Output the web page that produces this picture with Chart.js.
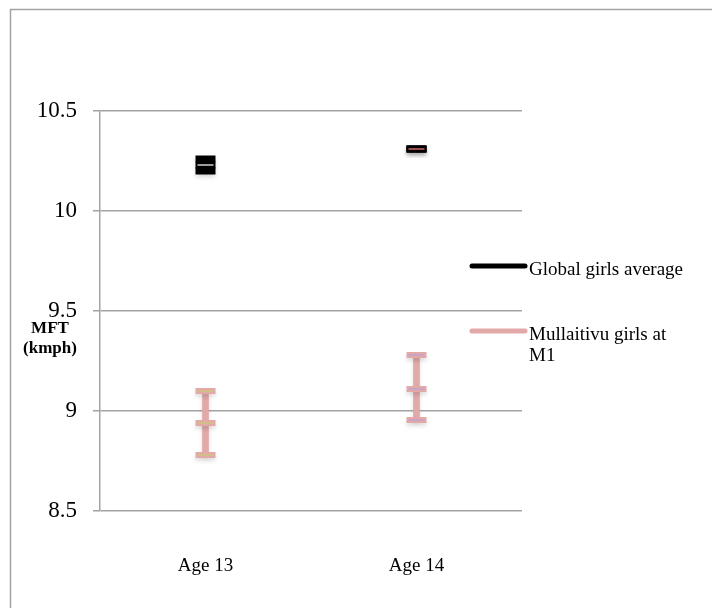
<!DOCTYPE html>
<html>
<head>
<meta charset="utf-8">
<script src="https://cdn.jsdelivr.net/npm/chart.js@4/dist/chart.umd.min.js"></script>
<style>
  html, body { margin: 0; padding: 0; background: #ffffff; }
  #wrap { width: 712px; height: 608px; position: relative; }
</style>
</head>
<body>
<div id="wrap"><canvas id="chart" width="712" height="608"></canvas></div>
<script>
// Categories and series values (MFT in km/h)
const categories = ['Age 13', 'Age 14'];
const seriesNames = ['Global girls average', 'Mullaitivu girls at M1'];

const globalMean = [10.23, 10.31];
const globalLow  = [10.20, 10.31];
const globalHigh = [10.26, 10.31];

const m1Mean = [8.94, 9.11];
const m1Low  = [8.78, 8.955];
const m1High = [9.10, 9.28];

const yTicks = [8.5, 9, 9.5, 10, 10.5];
const axisTitle = ['MFT', '(kmph)'];

const SERIF = '"Liberation Serif", "Times New Roman", serif';
const PINK = '#e3a8a8';
const GRID = '#a3a3a3';

// high / mean / low points per category, used for the error-bar caps
function capPoints(lows, means, highs) {
  const pts = [];
  categories.forEach((c, i) => {
    pts.push({ x: c, y: highs[i] }, { x: c, y: means[i] }, { x: c, y: lows[i] });
  });
  return pts;
}
function meanPoints(means) {
  return categories.map((c, i) => ({ x: c, y: means[i] }));
}
function capDataset(data, color, width, radius, order, shadow) {
  return {
    type: 'line', data, showLine: false, order,
    pointStyle: 'line', pointRadius: radius, pointHoverRadius: radius,
    pointBorderWidth: width, pointHoverBorderWidth: width,
    pointBorderColor: color, pointBackgroundColor: color,
    castShadow: shadow, clip: false
  };
}

const datasets = [
  // whiskers
  { type: 'bar', data: categories.map((c, i) => [m1Low[i], m1High[i]]),
    backgroundColor: PINK, barThickness: 6, grouped: false, order: 9, castShadow: true },
  { type: 'bar', data: categories.map((c, i) => [globalLow[i], globalHigh[i]]),
    backgroundColor: '#000000', barThickness: 6, grouped: false, order: 9, castShadow: true },
  // caps
  capDataset(capPoints(m1Low, m1Mean, m1High), PINK, 6, 10, 8, true),
  capDataset(capPoints(globalLow, globalMean, globalHigh), '#000000', 7, 10, 8, true),
  // thin highlight lines inside the caps
  capDataset(capPoints(m1Low, m1Mean, m1High),
    ['#cdc77e', '#cdc77e', '#cdc77e', '#c2a3c8', '#c2a3c8', '#c2a3c8'], 1.5, 8, 7, false),
  capDataset(meanPoints(globalMean), ['#cfcfcf', '#d26a6a'], 1.5, 8, 7, false)
];

const markShadow = {
  id: 'markShadow',
  beforeDatasetDraw(chart, args) {
    const ds = chart.data.datasets[args.index];
    if (ds.castShadow) {
      const ctx = chart.ctx;
      ctx.save();
      ctx.shadowColor = 'rgba(0,0,0,0.13)';
      ctx.shadowBlur = 4;
      ctx.shadowOffsetY = 3;
    }
  },
  afterDatasetDraw(chart, args) {
    const ds = chart.data.datasets[args.index];
    if (ds.castShadow) chart.ctx.restore();
  }
};

// frame, horizontal y-axis title and side legend
const decorations = {
  id: 'decorations',
  afterDraw(chart) {
    const ctx = chart.ctx;
    const area = chart.chartArea;
    ctx.save();
    // outer frame (top and left edges)
    ctx.strokeStyle = GRID;
    ctx.lineWidth = 1.5;
    ctx.beginPath();
    ctx.moveTo(10.5, chart.height);
    ctx.lineTo(10.5, 9.5);
    ctx.lineTo(chart.width, 9.5);
    ctx.stroke();

    // y-axis title
    ctx.fillStyle = '#000';
    ctx.font = 'bold 17px ' + SERIF;
    ctx.textAlign = 'center';
    ctx.textBaseline = 'middle';
    const midY = (area.top + area.bottom) / 2;
    axisTitle.forEach((t, i) => ctx.fillText(t, 50, midY + 18 + i * 20));

    // legend
    const colors = ['#000000', PINK];
    const rows = [266, 331];
    const lineX0 = 472, lineX1 = 525, textX = 529;
    ctx.font = '19px ' + SERIF;
    ctx.textAlign = 'left';
    seriesNames.forEach((name, i) => {
      ctx.strokeStyle = colors[i];
      ctx.lineWidth = 5;
      ctx.lineCap = 'round';
      ctx.beginPath();
      ctx.moveTo(lineX0, rows[i]);
      ctx.lineTo(lineX1, rows[i]);
      ctx.stroke();
      // wrap long names
      const words = name.split(' ');
      const lines = [];
      let cur = '';
      words.forEach(w => {
        const test = cur ? cur + ' ' + w : w;
        if (ctx.measureText(test).width > 158 && cur) { lines.push(cur); cur = w; }
        else cur = test;
      });
      lines.push(cur);
      lines.forEach((ln, k) => ctx.fillText(ln, textX, rows[i] + 4 + k * 21));
    });
    ctx.restore();
  }
};

new Chart(document.getElementById('chart'), {
  type: 'bar',
  data: { labels: categories, datasets },
  options: {
    responsive: false,
    animation: false,
    events: [],
    layout: { padding: { top: 111, right: 190, bottom: 0, left: 0 } },
    plugins: { legend: { display: false }, tooltip: { enabled: false } },
    scales: {
      x: {
        type: 'category',
        offset: true,
        grid: { display: false, drawTicks: false },
        border: { display: false },
        ticks: { color: '#000', font: { family: SERIF, size: 19 }, padding: 44 },
        afterFit(scale) { scale.height = 97; }
      },
      y: {
        min: 8.5, max: 10.5,
        afterBuildTicks(scale) { scale.ticks = yTicks.map(v => ({ value: v })); },
        grid: { color: GRID, lineWidth: 1.5, tickLength: 7, drawTicks: true },
        border: { display: true, color: GRID, width: 1.5 },
        ticks: {
          color: '#000', font: { family: SERIF, size: 23 }, padding: 16,
          callback: v => String(v)
        },
        afterFit(scale) { scale.width = 100; }
      }
    }
  },
  plugins: [markShadow, decorations]
});
</script>
</body>
</html>
